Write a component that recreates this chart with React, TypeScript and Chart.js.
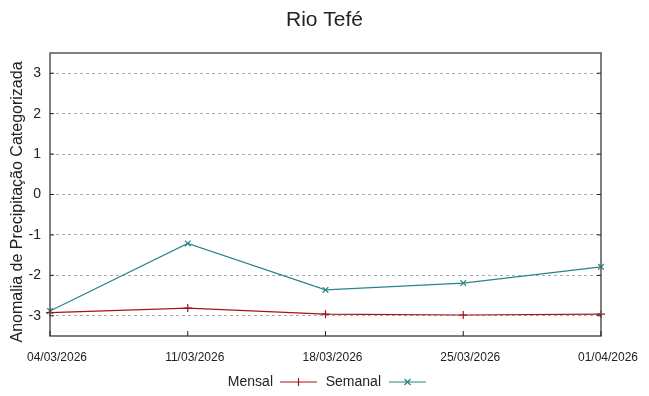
import React, { useEffect, useRef } from "react";
import { Chart, registerables } from "chart.js";

Chart.register(...registerables);

const chartTitle = "Rio Tefé";
const yAxisTitle = "Anomalia de Precipitação Categorizada";
const dates = ["04/03/2026", "11/03/2026", "18/03/2026", "25/03/2026", "01/04/2026"];
const mensal = [-2.92, -2.81, -2.96, -2.98, -2.96];
const semanal = [-2.88, -1.21, -2.36, -2.19, -1.79];
const yTicks = [-3, -2, -1, 0, 1, 2, 3];

const MENSAL_COLOR = "#a31515";
const SEMANAL_COLOR = "#2a8585";
const FONT = "'Liberation Sans', Arial, sans-serif";

const decorPlugin = {
  id: "decor",
  afterDatasetsDraw(chart: any) {
    const { ctx, chartArea } = chart;
    const { left, right, top, bottom } = chartArea;
    const yScale = chart.scales.y;
    const xScale = chart.scales.x;
    ctx.save();
    ctx.strokeStyle = "#555";
    ctx.lineWidth = 1.5;
    ctx.strokeRect(left, top, right - left, bottom - top);
    ctx.strokeStyle = "#222";
    ctx.lineWidth = 1;
    ctx.beginPath();
    yTicks.forEach((v) => {
      const y = yScale.getPixelForValue(v);
      ctx.moveTo(left, y);
      ctx.lineTo(left + 4, y);
      ctx.moveTo(right, y);
      ctx.lineTo(right - 4, y);
    });
    dates.forEach((_d, i) => {
      const x = xScale.getPixelForValue(i);
      ctx.moveTo(x, bottom);
      ctx.lineTo(x, bottom - 5);
    });
    ctx.stroke();
    ctx.restore();
  },
  afterDraw(chart: any) {
    const { ctx, width } = chart;
    ctx.save();
    ctx.fillStyle = "#222";
    ctx.font = `21px ${FONT}`;
    ctx.textAlign = "center";
    ctx.textBaseline = "middle";
    ctx.fillText(chartTitle, width / 2, 20);
    // y axis title
    ctx.save();
    ctx.translate(18, 202);
    ctx.rotate(-Math.PI / 2);
    ctx.font = `16px ${FONT}`;
    ctx.fillText(yAxisTitle, 0, 0);
    ctx.restore();
    // legend
    const ly = 382;
    ctx.font = `14px ${FONT}`;
    ctx.textAlign = "right";
    ctx.fillText("Mensal", 273, ly);
    ctx.fillText("Semanal", 381, ly);
    const drawSample = (x0: number, x1: number, color: string, marker: string) => {
      ctx.strokeStyle = color;
      ctx.lineWidth = 1.2;
      ctx.beginPath();
      ctx.moveTo(x0, ly);
      ctx.lineTo(x1, ly);
      const cx = (x0 + x1) / 2;
      const r = 4;
      if (marker === "+") {
        ctx.moveTo(cx, ly - r);
        ctx.lineTo(cx, ly + r);
      } else {
        ctx.moveTo(cx - r * 0.75, ly - r * 0.75);
        ctx.lineTo(cx + r * 0.75, ly + r * 0.75);
        ctx.moveTo(cx - r * 0.75, ly + r * 0.75);
        ctx.lineTo(cx + r * 0.75, ly - r * 0.75);
      }
      ctx.stroke();
    };
    drawSample(280, 317, MENSAL_COLOR, "+");
    drawSample(389, 426, SEMANAL_COLOR, "x");
    ctx.restore();
  },
};

export default function App() {
  const ref = useRef<HTMLCanvasElement | null>(null);
  useEffect(() => {
    if (!ref.current) return;
    const chart = new Chart(ref.current, {
      type: "line",
      data: {
        labels: dates,
        datasets: [
          {
            label: "Mensal",
            data: mensal,
            borderColor: MENSAL_COLOR,
            backgroundColor: MENSAL_COLOR,
            borderWidth: 1.2,
            pointStyle: "cross",
            pointRadius: 4,
            pointBorderWidth: 1.2,
            pointBorderColor: MENSAL_COLOR,
            tension: 0,
          },
          {
            label: "Semanal",
            data: semanal,
            borderColor: SEMANAL_COLOR,
            backgroundColor: SEMANAL_COLOR,
            borderWidth: 1.2,
            pointStyle: "crossRot",
            pointRadius: 4,
            pointBorderWidth: 1.2,
            pointBorderColor: SEMANAL_COLOR,
            tension: 0,
          },
        ],
      },
      options: {
        animation: false,
        responsive: true,
        maintainAspectRatio: false,
        layout: { padding: { top: 53, right: 48, bottom: 0, left: 0 } },
        plugins: {
          legend: { display: false },
          title: { display: false },
          tooltip: { enabled: false },
        },
        scales: {
          x: {
            type: "category",
            offset: false,
            grid: { display: false, drawTicks: false },
            border: { display: false },
            ticks: {
              color: "#222",
              font: { family: FONT, size: 12 },
              padding: 14,
              labelOffset: 7,
              maxRotation: 0,
              autoSkip: false,
            },
            afterFit: (scale: any) => {
              scale.height = 60;
            },
          },
          y: {
            type: "linear",
            min: -3.5,
            max: 3.5,
            afterBuildTicks: (scale: any) => {
              scale.ticks = yTicks.map((v) => ({ value: v }));
            },
            grid: {
              color: "#aaaaaa",
              lineWidth: 1,
              drawTicks: false,
            },
            border: { display: false, dash: [3, 3] },
            ticks: {
              color: "#222",
              font: { family: FONT, size: 14 },
              padding: 9,
            },
            title: { display: false },
            afterFit: (scale: any) => {
              scale.width = 50;
            },
          },
        },
      },
      plugins: [decorPlugin],
    } as any);
    return () => chart.destroy();
  }, []);
  return (
    <div style={{ position: "absolute", left: 0, top: 0, width: 649, height: 396 }}>
      <canvas ref={ref} />
    </div>
  );
}
